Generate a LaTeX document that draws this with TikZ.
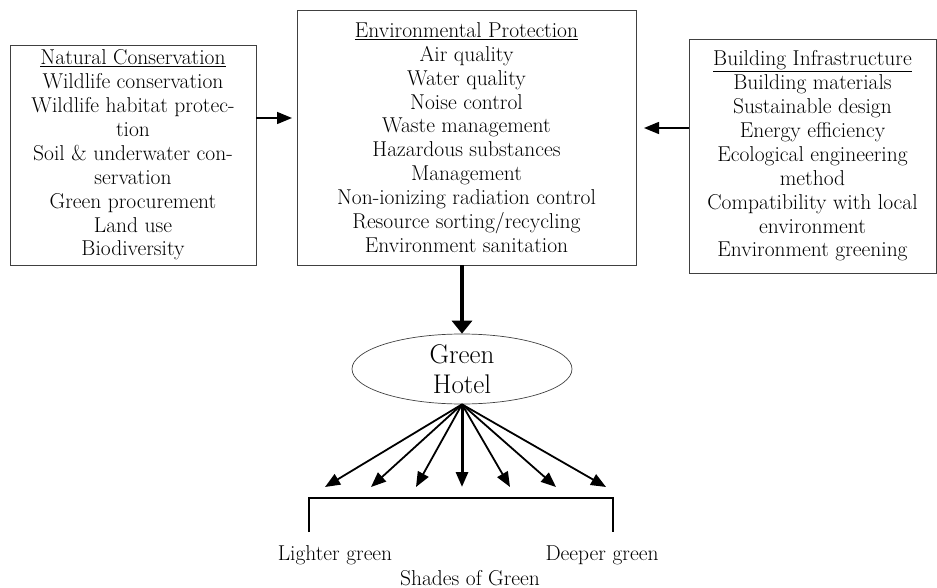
\documentclass[tikz,border=0pt]{standalone}
\usepackage{fontspec}
\setmainfont{Latin Modern Roman}
\usetikzlibrary{shapes.geometric,arrows.meta}
\begin{document}
\begin{tikzpicture}[x=1pt,y=-1pt]
		\tikzstyle{box}=[draw=black!75, line width=0.9pt, align=center, inner sep=0pt, font=\fontsize{21.5}{23.9}\selectfont];
		\tikzstyle{hotel}=[draw=black!75, line width=0.7pt, shape=ellipse, align=center, inner sep=0pt, font=\fontsize{27}{30}\selectfont];
		\tikzstyle{side}=[line width=1.5pt, -{Triangle[length=15pt,width=12pt]}];
		\tikzstyle{fan}=[line width=1.8pt, -{Triangle[length=15pt,width=12pt]}];
		\tikzstyle{lbl}=[font=\fontsize{21.5}{24}\selectfont, inner sep=0pt];

		\useasboundingbox (0,0) rectangle (937,588);

		\node[box, minimum width=246pt, minimum height=220pt] (N) at (133,155) {\underline{Natural Conservation}\\Wildlife conservation\\Wildlife habitat protec-\\tion\\Soil \& underwater con-\\servation\\Green procurement\\Land use\\Biodiversity};
		\node[box, minimum width=339pt, minimum height=255pt] (E) at (466.5,137.5) {\underline{Environmental Protection}\\Air quality\\Water quality\\Noise control\\Waste management\\Hazardous substances\\Management\\Non-ionizing radiation control\\Resource sorting/recycling\\Environment sanitation};
		\node[box, minimum width=247pt, minimum height=234pt] (B) at (812.5,156) {\underline{Building Infrastructure}\\Building materials\\Sustainable design\\Energy efficiency\\Ecological engineering\\method\\Compatibility with local\\environment\\Environment greening};
		\node[hotel, minimum width=220pt, minimum height=70pt] (H) at (462,369) {Green\\Hotel};

		\draw[side] (N.east |- 0,118) -- (292,118);
		\draw[side] (B.west |- 0,128) -- (644,128);
		\draw[line width=4pt, -{Triangle[length=13pt,width=20pt]}] (H.north |- E.south) -- (H.north);

		\foreach \x [count=\i from 0] in {325,371,416,462,510,556,606}
			\coordinate (t\i) at (\x,487);
		\foreach \i in {0,1,2,4,5,6}
			\draw[fan] (H.south) -- (t\i);
		\draw[fan, line width=3pt] (H.south) -- (t3);

		\coordinate (bl) at (309,532);
		\coordinate (tl) at (309,498);
		\coordinate (tr) at (613,498);
		\coordinate (br) at (613,532);
		\draw[line width=2pt] (bl) -- (tl) -- (tr) -- (br);

		\node[lbl] (light) at (335,555) {Lighter green};
		\node[lbl] (deep) at (602,555) {Deeper green};
		\node[lbl] (shades) at (470,578) {Shades of Green};
        \end{tikzpicture}
\end{document}
